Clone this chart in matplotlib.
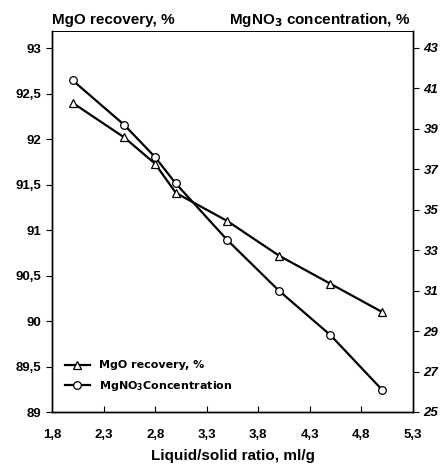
import matplotlib
matplotlib.use("Agg")
import matplotlib.pyplot as plt
from matplotlib.ticker import FixedLocator, FixedFormatter

ratio = [2.0, 2.5, 2.8, 3.0, 3.5, 4.0, 4.5, 5.0]
mgo_recovery = [92.4, 92.02, 91.73, 91.41, 91.1, 90.72, 90.41, 90.1]
mgno3_conc = [41.4, 39.2, 37.6, 36.3, 33.5, 31.0, 28.8, 26.1]

x_ticks = [1.8, 2.3, 2.8, 3.3, 3.8, 4.3, 4.8, 5.3]
x_labels = ["1,8", "2,3", "2,8", "3,3", "3,8", "4,3", "4,8", "5,3"]
left_ticks = [89, 89.5, 90, 90.5, 91, 91.5, 92, 92.5, 93]
left_labels = ["89", "89,5", "90", "90,5", "91", "91,5", "92", "92,5", "93"]
right_ticks = [25, 27, 29, 31, 33, 35, 37, 39, 41, 43]
right_labels = [str(v) for v in right_ticks]

plt.rcParams['font.family'] = ['Liberation Sans', 'DejaVu Sans']
plt.rcParams['font.weight'] = 'bold'

fig = plt.figure(figsize=(4.42, 4.66), dpi=100)
ax = fig.add_axes([52/442, 54/466, 361/442, 381/466])
ax2 = ax.twinx()

l1, = ax.plot(ratio, mgo_recovery, color='black', lw=1.6, marker='^', ms=5.5,
              mfc='white', mec='black', mew=0.9, label='MgO recovery, %')
l2, = ax2.plot(ratio, mgno3_conc, color='black', lw=1.6, marker='o', ms=5.5,
               mfc='white', mec='black', mew=0.9, label='MgNO$_3$Concentration')

ax.set_xlim(1.8, 5.3)
ax.set_ylim(89, 93.19)
ax2.set_ylim(25, 43.84)

ax.xaxis.set_major_locator(FixedLocator(x_ticks))
ax.xaxis.set_major_formatter(FixedFormatter(x_labels))
ax.yaxis.set_major_locator(FixedLocator(left_ticks))
ax.yaxis.set_major_formatter(FixedFormatter(left_labels))
ax2.yaxis.set_major_locator(FixedLocator(right_ticks))
ax2.yaxis.set_major_formatter(FixedFormatter(right_labels))

ax.tick_params(axis='x', direction='in', length=4, labelsize=9.5, pad=12)
ax.tick_params(axis='y', direction='out', length=4, labelsize=9.5)
ax2.tick_params(axis='y', direction='out', length=4, labelsize=9.5)
for t in ax2.get_yticklabels():
    t.set_fontstyle('italic')

for a in (ax, ax2):
    for s in a.spines.values():
        s.set_linewidth(1.0)
ax.spines['top'].set_linewidth(0.6)
ax2.spines['top'].set_linewidth(0.6)

ax.set_xlabel('Liquid/solid ratio, ml/g', fontsize=11, fontweight='bold', labelpad=6)

fig.text(52/442, 1 - 20/466, 'MgO recovery, %', fontsize=11, fontweight='bold',
         ha='left', va='center')
fig.text(411/442, 1 - 20/466, 'MgNO$_3$ concentration, %', fontsize=11, fontweight='bold',
         ha='right', va='center')

leg = ax.legend(handles=[l1, l2], loc='lower left', bbox_to_anchor=(0.015, 0.03),
                frameon=False, handlelength=2.2, borderaxespad=0.3,
                labelspacing=0.75, prop={'family': 'DejaVu Sans', 'weight': 'bold', 'size': 8})

fig.savefig('out.png', dpi=100)
